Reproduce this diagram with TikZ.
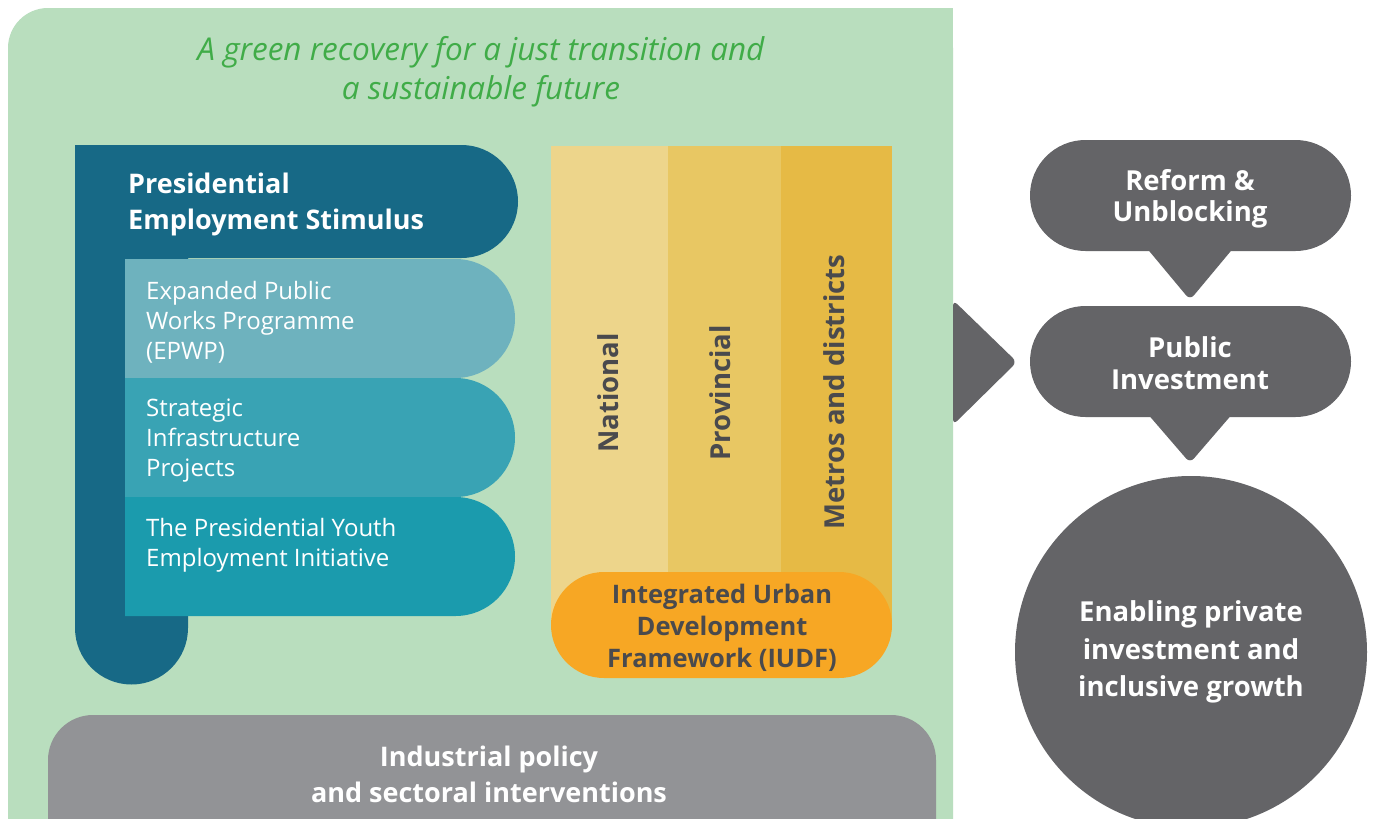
\documentclass[tikz,border=0pt]{standalone}
\usepackage{fontspec}
\setmainfont{Open Sans}
\definecolor{panelgreen}{RGB}{185,222,190}
\definecolor{titlegreen}{RGB}{64,172,72}
\definecolor{pescol}{RGB}{23,105,134}
\definecolor{epwpcol}{RGB}{110,178,190}
\definecolor{sipcol}{RGB}{57,163,180}
\definecolor{youthcol}{RGB}{27,155,173}
\definecolor{natcol}{RGB}{237,213,139}
\definecolor{provcol}{RGB}{232,199,99}
\definecolor{metcol}{RGB}{230,186,69}
\definecolor{iudfcol}{RGB}{247,167,36}
\definecolor{darktext}{RGB}{74,74,77}
\definecolor{rightgray}{RGB}{100,100,103}
\definecolor{indgray}{RGB}{146,147,150}
\begin{document}
\begin{tikzpicture}[x=1pt,y=-1pt,
  wbold/.style={text=white, inner sep=0pt, font=\fontsize{27}{36}\selectfont\bfseries},
  itemtext/.style={text=white, inner sep=0pt, anchor=west, align=left, font=\fontsize{24}{30}\selectfont},
  vtext/.style={text=darktext, inner sep=0pt, rotate=90, font=\fontsize{27.5}{32}\selectfont\bfseries},
  rtext/.style={text=white, inner sep=0pt, align=center, font=\fontsize{27.5}{31.5}\selectfont\bfseries}]
\useasboundingbox (0,0) rectangle (1374,819);
\clip (0,0) rectangle (1374,819);
\fill[white] (0,0) rectangle (1374,819);
% green panel
\fill[panelgreen, rounded corners=40] (8,8) rectangle (953,880);
\fill[panelgreen] (900,8) rectangle (953,880);
\node[text=titlegreen, inner sep=0pt, align=center, font=\fontsize{31.5}{39}\selectfont\itshape] (title) at (481,71.5) {A green recovery for a just transition and\\a sustainable future};
% PES shape
\fill[pescol] (75,145) -- (461.5,145) arc[start angle=-90, end angle=90, radius=56.5] -- (188,258) -- (188,628) arc[start angle=0, end angle=180, radius=56.5] -- cycle;
\node[wbold, anchor=west, align=left] (pes) at (128,204.5) {Presidential\\Employment Stimulus};
% items
\fill[epwpcol] (125,259) -- (455.5,259) arc[start angle=-90, end angle=90, radius=59.5] -- (125,378) -- cycle;
\fill[sipcol] (125,378) -- (455.5,378) arc[start angle=-90, end angle=90, radius=59.5] -- (125,497) -- cycle;
\fill[youthcol] (125,497) -- (455.5,497) arc[start angle=-90, end angle=90, radius=59.5] -- (125,616) -- cycle;
\node[itemtext] (epwp) at (146,322) {Expanded Public\\Works Programme\\(EPWP)};
\node[itemtext] (sip) at (146,441) {Strategic\\Infrastructure\\Projects};
\node[itemtext] (youth) at (146,545) {The Presidential Youth\\Employment Initiative};
% columns
\fill[natcol] (551,146) rectangle (668,625);
\fill[provcol] (668,146) rectangle (781,625);
\fill[metcol] (781,146) rectangle (892,625);
\node[vtext] (nat) at (608,393) {National};
\node[vtext] (prov) at (720,393) {Provincial};
\node[vtext] (met) at (834,392) {Metros and districts};
% IUDF
\fill[iudfcol] (604,572) -- (839,572) arc[start angle=-90, end angle=90, radius=53] -- (604,678) arc[start angle=90, end angle=270, radius=53] -- cycle;
\node[text=darktext, inner sep=0pt, align=center, font=\fontsize{25.5}{32}\selectfont\bfseries] (iudf) at (722,628) {Integrated Urban\\Development\\Framework (IUDF)};
% industrial
\fill[indgray, rounded corners=45] (48,715) rectangle (936,900);
\node[rtext, font=\fontsize{27}{36}\selectfont\bfseries] (ind) at (489,774) {Industrial policy\\and sectoral interventions};
% right side
\fill[rightgray, rounded corners=6] (953,300) -- (1017,362) -- (953,425) -- cycle;
\fill[rightgray, rounded corners=6] (1140,240) -- (1190,300) -- (1240,240) -- cycle;
\fill[rightgray, rounded corners=6] (1140,405) -- (1190,463) -- (1240,405) -- cycle;
\fill[rightgray] (1085.5,140) -- (1295.5,140) arc[start angle=-90, end angle=90, radius=55.5] -- (1085.5,251) arc[start angle=90, end angle=270, radius=55.5] -- cycle;
\fill[rightgray] (1085.5,306) -- (1295.5,306) arc[start angle=-90, end angle=90, radius=55.5] -- (1085.5,417) arc[start angle=90, end angle=270, radius=55.5] -- cycle;
\fill[rightgray] (1191,652) circle[radius=176];
\node[rtext] (reform) at (1190,199) {Reform \&\\Unblocking};
\node[rtext] (public) at (1190,363) {Public\\Investment};
\node[rtext, font=\fontsize{27.5}{37.5}\selectfont\bfseries] (enable) at (1191,652) {Enabling private\\investment and\\inclusive growth};
\end{tikzpicture}
\end{document}
